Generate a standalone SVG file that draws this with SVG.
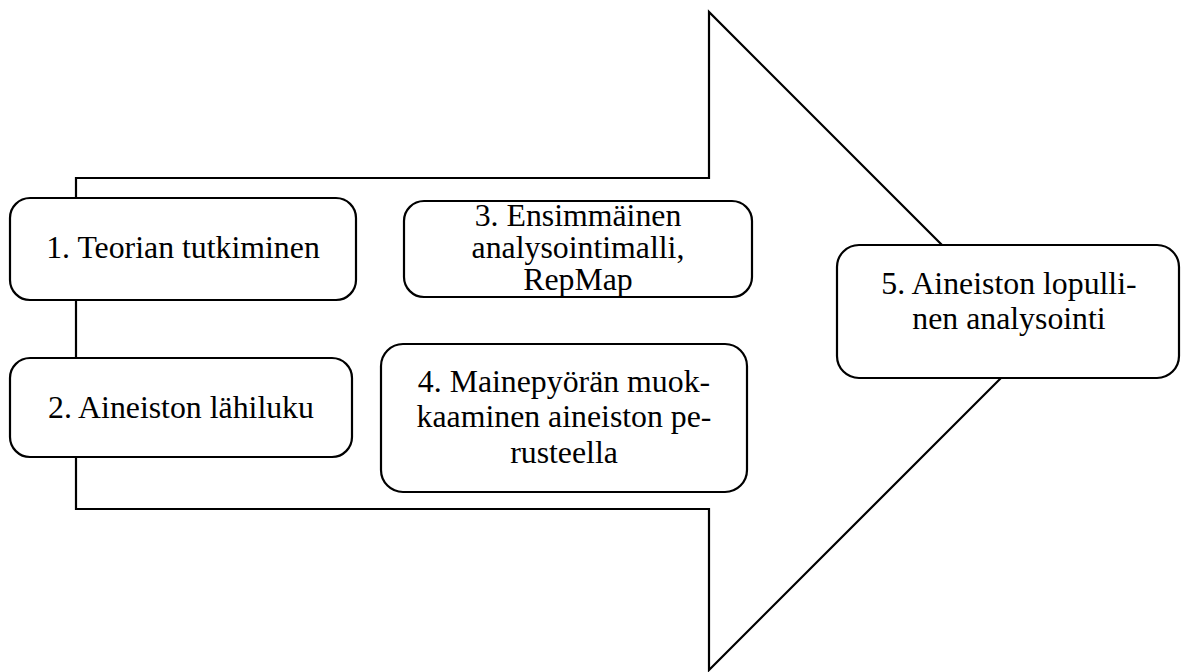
<svg xmlns="http://www.w3.org/2000/svg" width="1181" height="672" viewBox="0 0 1181 672">
<style>
.bg{fill:#fff}
.arrow{fill:#fff;stroke:#000;stroke-width:2.2;stroke-linejoin:miter}
.box{fill:#fff;stroke:#000;stroke-width:2.2}
.t{font-family:"Liberation Serif","Times New Roman",serif;font-size:31.8px;fill:#000;text-anchor:middle}
</style>
<rect class="bg" x="0" y="0" width="1181" height="672"/>
<g id="connectors">
<path class="arrow" d="M76,178 L709,178 L709,12 L1038,341 L709,670 L709,509 L76,509 Z"/>
</g>
<g id="n1">
<rect class="box" x="10" y="198" width="346" height="102" rx="20"/>
<text class="t" x="183" y="258">1. Teorian tutkiminen</text>
</g>
<g id="n2">
<rect class="box" x="10" y="358" width="342" height="99" rx="20"/>
<text class="t" x="181" y="418">2. Aineiston lähiluku</text>
</g>
<g id="n3">
<rect class="box" x="404" y="201" width="348" height="96" rx="20"/>
<text class="t" x="578" y="226">3. Ensimmäinen</text>
<text class="t" x="578" y="258">analysointimalli,</text>
<text class="t" x="578" y="290">RepMap</text>
</g>
<g id="n4">
<rect class="box" x="381" y="344" width="366" height="148" rx="22"/>
<text class="t" x="564" y="392">4. Mainepyörän muok-</text>
<text class="t" x="564" y="427">kaaminen aineiston pe-</text>
<text class="t" x="564" y="463">rusteella</text>
</g>
<g id="n5">
<rect class="box" x="837" y="245" width="342" height="133" rx="22"/>
<text class="t" x="1009" y="294">5. Aineiston lopulli-</text>
<text class="t" x="1009" y="329">nen analysointi</text>
</g>
</svg>
